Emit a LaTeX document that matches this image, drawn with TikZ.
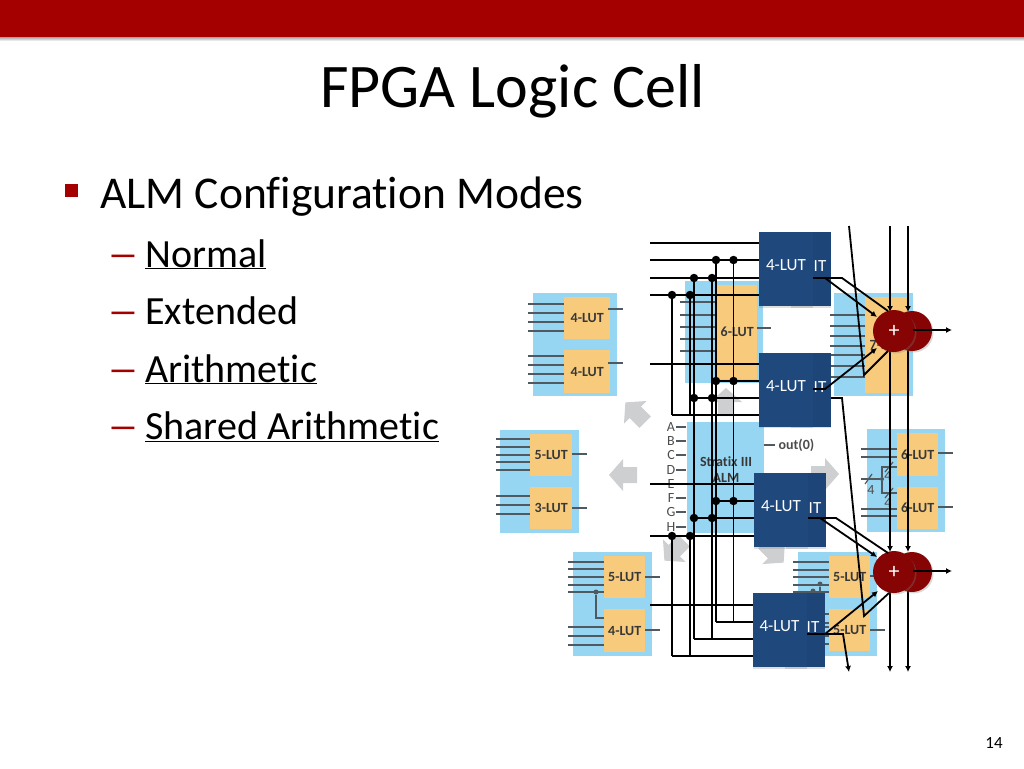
\documentclass[tikz,border=0pt]{standalone}
\usepackage{xcolor}
\usepackage{fontspec}
\setmainfont[Ligatures=NoCommon]{Carlito}
\usetikzlibrary{positioning,shadows,arrows.meta}
\definecolor{barred}{HTML}{A40000}
\definecolor{addred}{HTML}{860404}
\definecolor{lutblue}{HTML}{1F497D}
\definecolor{cellblue}{HTML}{96D6F2}
\definecolor{lutgold}{HTML}{F8CB7C}
\definecolor{wiregray}{HTML}{505860}
\definecolor{markgray}{HTML}{CDCFD0}
\tikzset{
  wire/.style={black,line width=1.8pt},
  feed/.style={wire,-{Latex[length=6pt,width=6pt]}},
  tick/.style={wiregray,line width=1.2pt},
  jdot/.style={circle,fill=black,inner sep=0pt,minimum size=8.5pt},
  celltext/.style={text=black!78,font=\fontsize{14}{16}\selectfont\bfseries},
  pintext/.style={text=black!70,font=\fontsize{14}{14}\selectfont},
  cellbox/.style={fill=cellblue,draw=none,anchor=north west,inner sep=0pt},
  lutbox/.style={fill=lutgold,draw=none,anchor=north west,inner sep=0pt},
  frontbox/.style={fill=lutblue,draw=none,inner sep=0pt,minimum width=54pt,minimum height=74pt,
    text height=10pt,text depth=7pt,
    drop shadow={shadow xshift=0pt,shadow yshift=-1.5pt,opacity=.25},text=white,font=\fontsize{17}{17}\selectfont},
  backbox/.style={fill=lutblue!95!black,draw=none,inner sep=0pt,minimum width=40pt,minimum height=74pt,
    drop shadow={shadow xshift=0pt,shadow yshift=-1.5pt,opacity=.25}},
  ittext/.style={text=white,font=\fontsize{17}{17}\selectfont},
  addback/.style={circle,fill=addred,inner sep=0pt,minimum size=40pt,
    drop shadow={shadow xshift=1.5pt,shadow yshift=-1.5pt,opacity=.3}},
  addfront/.style={addback,minimum size=42pt,text=white,font=\fontsize{22}{22}\selectfont},
  bodytext/.style={anchor=base west,inner sep=0pt,font=\fontsize{45.5}{45.5}\selectfont},
  subtext/.style={anchor=base west,inner sep=0pt,font=\fontsize{40}{40}\selectfont},
}
\newcommand{\cellat}[5]{% x, y, w, h, name
  \node[cellbox,minimum width=#3pt,minimum height=#4pt] (#5) at (#1,#2) {};}
\newcommand{\lutat}[6]{% x, y, w, h, text, name
  \node[lutbox,minimum width=#3pt,minimum height=#4pt] (#6) at (#1,#2) {};
  \node[celltext] (#6t) at (#6.center) {#5};}
\begin{document}
\begin{tikzpicture}[x=1pt,y=-1pt]
  \useasboundingbox (0,0) rectangle (1024,768);
  % title bar
  \shade[top color=black!45,bottom color=white] (0,36) rectangle (1024,41);
  \node[fill=barred,draw=none,inner sep=0pt,anchor=north west,minimum width=1024pt,minimum height=37pt] (bar) at (0,0) {};
  \node[anchor=base,inner sep=0pt,font=\fontsize{62}{62}\selectfont] (title) at (512.5,107) {FPGA Logic Cell};
  % bullets
  \node[fill=barred,inner sep=0pt,minimum size=13pt] (mark) at (71.5,190.5) {};
  \node[bodytext] (head) at (100,208) {ALM Configuration Modes};
  \foreach \y/\n/\t in {267/a/\underline{Normal},324/b/Extended,382/c/\underline{Arithmetic},439/d/\underline{Shared Arithmetic}} {
    \node[subtext,text=barred] (dash\n) at (107,\y) {\scalebox{1.6}[1]{–}};
    \node[subtext] (item\n) at (145,\y) {\t};
  }
  \node[font=\fontsize{17}{17}\selectfont] (page) at (994,743) {14};
  % ALM modes behind the wires
  \foreach \x/\y/\a in {636/413/135,624/475/180,824/474/0,726/403/90,675/550/225,773/552/315} {
    \fill[markgray,shift={(\x,\y)},rotate=\a] (-13,-8) -- (1,-8) -- (1,-16) -- (15,0) -- (1,16) -- (1,8) -- (-13,8) -- cycle;
  }
  \cellat{533}{293}{84}{103}{cellA}
  \lutat{564}{297}{46}{42}{4-LUT}{lutAa}
  \lutat{564}{350}{46}{43}{4-LUT}{lutAb}
  \foreach \y in {304,313,322,331,356,365,374,383} \draw[tick] (528,\y) -- (564,\y);
  \foreach \y in {309,363} \draw[tick] (608,\y) -- (623,\y);
  \cellat{500}{430}{79}{103}{cellB}
  \lutat{530}{434}{42}{42}{5-LUT}{lutBa}
  \lutat{530}{487}{42}{42}{3-LUT}{lutBb}
  \foreach \y in {439,447,455,462,470,496,505,514} \draw[tick] (496,\y) -- (530,\y);
  \foreach \y in {454,508} \draw[tick] (572,\y) -- (587,\y);
  \cellat{573}{552}{79}{104}{cellC}
  \lutat{604}{556}{41}{42}{5-LUT}{lutCa}
  \lutat{604}{609}{41}{43}{4-LUT}{lutCb}
  \foreach \y in {562,569,577,585,592,627,636,645} \draw[tick] (568,\y) -- (604,\y);
  \foreach \y in {577,630} \draw[tick] (645,\y) -- (660,\y);
  \node[circle,fill=wiregray,inner sep=0pt,minimum size=5pt] (dotC) at (596,592) {};
  \draw[tick] (dotC) |- (lutCb.west |- 0,618);
  \cellat{685}{281}{78}{102}{cellD}
  \lutat{717}{285}{40}{94}{6-LUT}{lutD}
  \foreach \y in {302,315,327,339,351} \draw[tick] (680,\y) -- (717,\y);
  \draw[tick] (757,328) -- (771,328);
  \cellat{687}{422}{77}{111}{cellE}
  \node[celltext,align=center] (alm) at (726,470) {Stratix III\\ALM};
  \foreach \y/\t in {427/A,441/B,455/C,470/D,484/E,498/F,512/G,527/H} {
    \node[pintext] (pin\t) at (671,\y) {\t};
    \draw[tick] (676,\y) -- (686,\y);
  }
  \node[pintext,anchor=west,font=\fontsize{14}{14}\selectfont\bfseries] (outz) at (775,445) {out(0)};
  \draw[tick] (764,445) -- (775,445);
  \cellat{834}{293}{79}{103}{cellF}
  \lutat{865}{297}{42}{96}{7-LUT}{lutF}
  \foreach \y in {315,326,336,346,355,366,377} \draw[tick] (830,\y) -- (865,\y);
  \cellat{867}{429}{78}{103}{cellG}
  \lutat{897}{433}{41}{43}{6-LUT}{lutGa}
  \lutat{897}{487}{41}{42}{6-LUT}{lutGb}
  \foreach \y in {449,457,509,516} \draw[tick] (861,\y) -- (897,\y);
  \foreach \y in {453,507} \draw[tick] (938,\y) -- (953,\y);
  % shared select of the 6-LUT pair
  \node[circle,fill=wiregray,inner sep=0pt,minimum size=4pt] (dotG) at (882,479) {};
  \draw[tick] (861,479) -- (dotG);
  \draw[tick] (lutGa.west |- 0,467) -| (dotG) |- (lutGb.west |- 0,493);
  \draw[tick] (865,484) -- (872,474);
  \draw[tick] (885,472) -- (893,462);
  \draw[tick] (885,498) -- (893,488);
  \node[pintext,inner sep=0pt] (selA) at (871,490) {4};
  \node[pintext,inner sep=0pt] (selB) at (888,476) {4};
  \node[pintext,inner sep=0pt] (selC) at (888,503) {4};
  \cellat{798}{552}{79}{104}{cellH}
  \lutat{829}{556}{41}{42}{5-LUT}{lutHa}
  \lutat{829}{609}{41}{42}{5-LUT}{lutHb}
  \foreach \y in {562,570,577,585,592,614,623,627,636,644} \draw[tick] (793,\y) -- (829,\y);
  \foreach \y in {576,630} \draw[tick] (870,\y) -- (885,\y);
  \node[circle,fill=wiregray,inner sep=0pt,minimum size=5pt] (dotHa) at (820,584) {};
  \node[circle,fill=wiregray,inner sep=0pt,minimum size=5pt] (dotHb) at (813,591) {};
  \draw[tick] (dotHa) -- (820,600);
  \draw[tick] (dotHb) -- (813,600);
  % back halves of the LUTs
  \node[backbox] (backA) at (811,269) {};
  \node[backbox] (backB) at (811,389.5) {};
  \node[backbox] (backC) at (806,510) {};
  \node[backbox] (backD) at (805,630) {};
  \node[ittext] (itA) at (820,266.5) {IT};
  \node[ittext] (itB) at (820,387.5) {IT};
  \node[ittext] (itC) at (815,508.5) {IT};
  \node[ittext] (itD) at (813,627.5) {IT};
  % inputs
  \foreach \y in {243,260,278,295,364,484,536,605} \draw[wire] (650,\y) -- (790,\y);
  \foreach \x in {716,733.5} \draw[wire] (\x,260) -- (\x,622);
  \foreach \x in {694,712} \draw[wire] (\x,278) -- (\x,639);
  \foreach \x in {672,690} {
    \draw[wire] (\x,295) -- (\x,415);
    \draw[wire] (\x,536) -- (\x,656);
  }
  \draw[wire] (716,381) -- (790,381);
  \draw[wire] (694,398) -- (790,398);
  \draw[wire] (672,415) -- (790,415);
  \draw[wire] (716,501) -- (790,501);
  \draw[wire] (694,518) -- (790,518);
  \draw[wire] (716,622) -- (790,622);
  \draw[wire] (694,639) -- (790,639);
  \draw[wire] (672,656) -- (790,656);
  \foreach \x/\y in {716/260,733.5/260,694/278,712/278,672/295,690/295,
                     716/381,733.5/381,694/398,712/398,
                     716/501,733.5/501,694/518,712/518,672/536,690/536}
    \node[jdot] at (\x,\y) {};
  % front halves of the LUTs
  \node[frontbox] (lutOne) at (786,269) {4-LUT};
  \node[frontbox] (lutTwo) at (786,389.5) {4-LUT};
  \node[frontbox] (lutThree) at (781,510) {4-LUT};
  \node[frontbox] (lutFour) at (779.5,630) {4-LUT};
  % sums and carries
  \foreach \x in {890,908} {
    \draw[feed] (\x,226) -- (\x,312);
    \draw[feed] (\x,345) -- (\x,552);
    \draw[feed] (\x,585) -- (\x,672);
  }
  % adders
  \node[addback] (addAb) at (912,331) {};
  \node[addfront] (addA) at (894,331) {+};
  \node[addback] (addBb) at (912,572) {};
  \node[addfront] (addB) at (894,572) {+};
  \draw[feed] (913,330) -- (952,330);
  \draw[feed] (913,571) -- (952,571);
  \draw[wire] (849,226) -- (864,375) -- (888,351);
  \draw[wire] (831,398) -- (842,398) -- (864,616) -- (889,593);
  \draw[feed] (813,278) -- (825,278) -- (877,317);
  \draw[wire] (825,278) -- (842,278) -- (888,311);
  \draw[feed] (813,389) -- (825,389) -- (877,348);
  \draw[feed] (808,518) -- (820,518) -- (877,557);
  \draw[wire] (820,518) -- (836,518) -- (888,553);
  \draw[feed] (807,634) -- (825,634) -- (878,591);
  \draw[feed] (825,634) -- (843,634) -- (849,672);
\end{tikzpicture}
\end{document}
